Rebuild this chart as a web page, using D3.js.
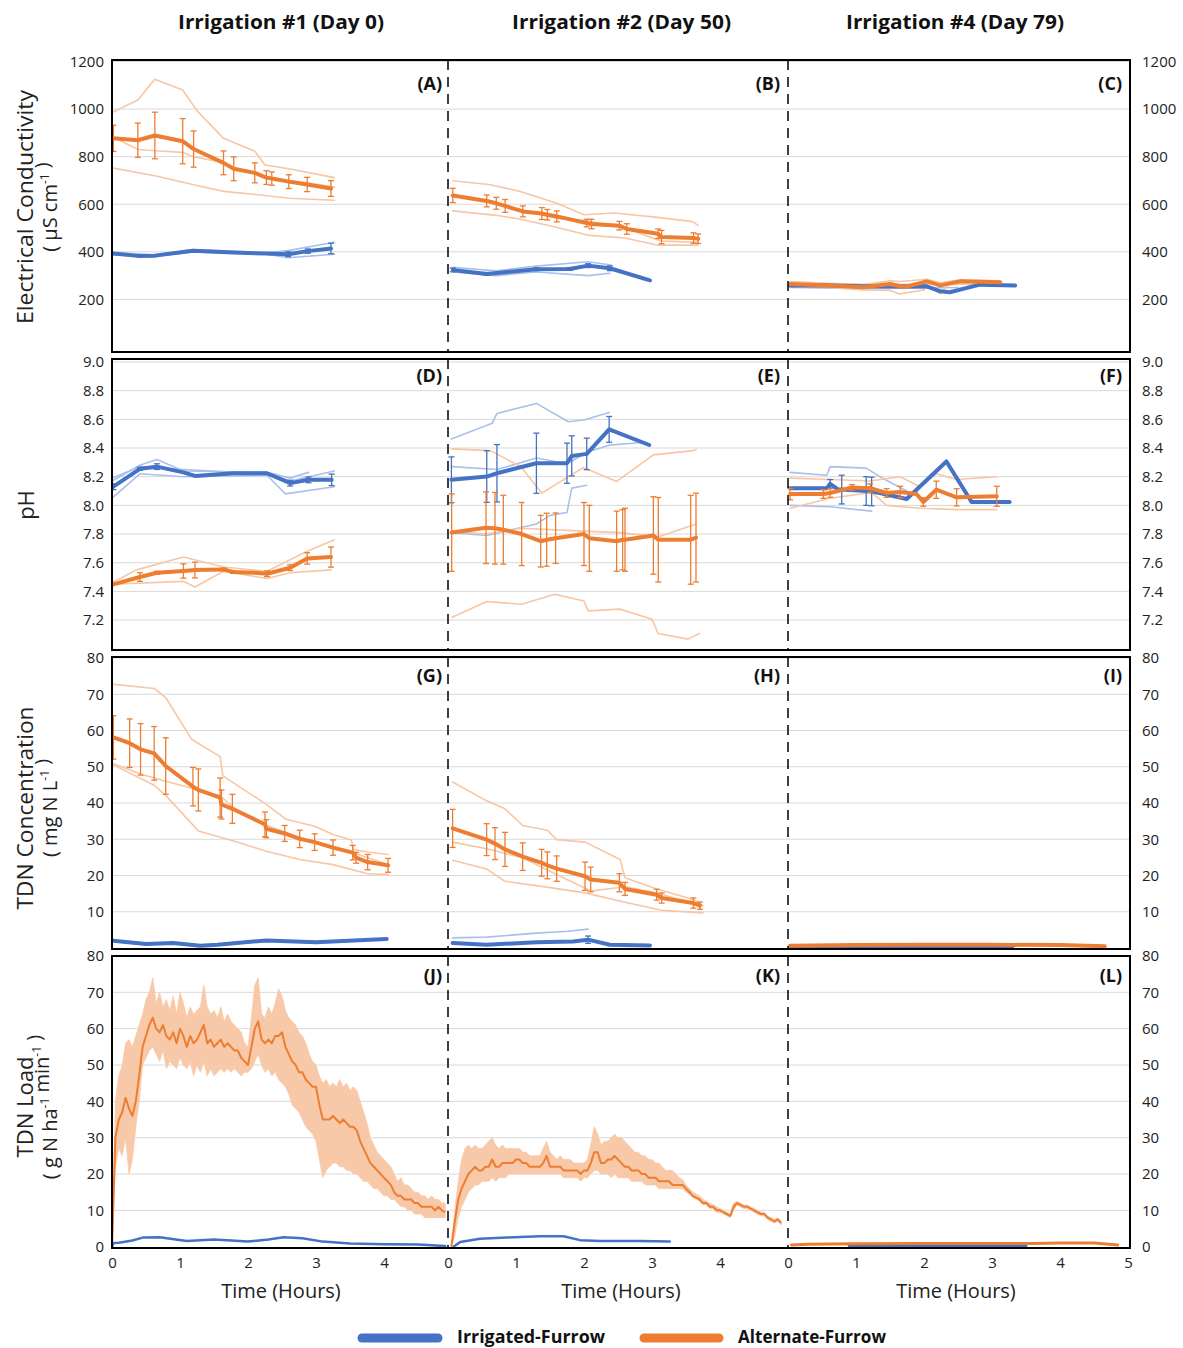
<!DOCTYPE html>
<html lang="en">
<head>
<meta charset="utf-8">
<title>Irrigation runoff - EC, pH, TDN</title>
<script src="https://cdn.jsdelivr.net/npm/d3@7"></script>
<style>
body { margin:0; background:#fff; font-family:'Open Sans', sans-serif; }
.axis text { font-family:'Open Sans', sans-serif; font-size:15px; fill:#222; }
.axis path { display:none; }
.grid line { stroke:#d9d9d9; stroke-width:1; }
.frame { fill:none; stroke:#000; stroke-width:2; }
.divider { stroke:#000; stroke-width:1.5; stroke-dasharray:10,7; }
.ytitle { font-size:20px; fill:#222; }
.ytitle.main { font-size:22px; }
.coltitle { font-size:19px; font-weight:700; fill:#111; }
.plabel { font-size:18px; font-weight:700; fill:#111; }
.xtitle { font-size:20px; fill:#222; }
.legend text { font-size:17px; font-weight:700; fill:#111; }
</style>
</head>
<body>
<svg id="chart" width="1183" height="1348"></svg>
<script>

// ---------- data (time in hours, value) ----------
// colours
var ORANGE = "#ED7D31", ORANGE_LT = "#F7C6A4", BLUE = "#4472C4", BLUE_LT = "#A9C0EA";

// (A) EC, irrigation #1   [t, mean, err]
var A_or = [[0.02,877,55],[0.38,869,72],[0.63,889,98],[1.04,865,95],[1.2,832,76],[1.64,774,50],[1.79,749,50],[2.1,732,42],[2.27,712,29],[2.35,708,28],[2.6,695,29],[2.87,683,30],[3.22,666,33]];
var A_orReps = [
  [[0,985],[0.38,1038],[0.63,1125],[1.04,1080],[1.25,993],[1.64,877],[2.1,823],[2.25,765],[2.6,749],[3.27,712]],
  [[0,753],[0.63,720],[1.25,679],[1.64,654],[2.12,641],[2.6,625],[3.27,617]],
  [[0,885],[0.38,830],[0.63,825],[1.04,818],[1.2,800],[1.64,775],[1.79,750],[2.1,730],[2.3,712],[2.6,700],[2.87,690],[3.27,672]]
];
var A_bl = [[0.02,393,0],[0.38,383,0],[0.63,384,0],[1.19,405,0],[1.79,397,0],[2.27,393,0],[2.59,390,10],[2.88,403,9],[3.22,414,22]];
var A_blReps = [
  [[0,397],[0.63,388],[1.19,410],[2.27,396],[2.59,405],[3.27,440]],
  [[0,388],[0.63,380],[1.19,400],[2.27,390],[2.59,375],[3.27,390]]
];

// (B) EC, irrigation #2
var B_or = [[0.07,637,30],[0.57,614,25],[0.71,604,25],[0.84,593,27],[1.10,570,23],[1.38,561,25],[1.46,556,22],[1.60,549,23],[2.04,521,16],[2.11,517,20],[2.52,510,18],[2.63,496,22],[3.09,476,20],[3.14,462,28],[3.61,458,22],[3.68,455,20]];
var B_orReps = [
  [[0.07,699],[0.6,683],[1.05,655],[1.6,604],[2.0,556],[2.45,563],[3.08,545],[3.6,527],[3.68,510]],
  [[0.07,572],[0.75,552],[1.05,538],[1.5,510],[2.08,469],[2.6,458],[3.09,428],[3.68,428]],
  [[0.07,640],[0.57,610],[1.1,575],[1.6,540],[2.04,530],[2.6,500],[3.14,445],[3.68,440]]
];
var B_bl = [[0.07,324,8],[0.57,307,6],[1.3,327,6],[1.79,328,6],[2.06,342,8],[2.38,331,10],[2.97,280,0]];
var B_blReps = [
  [[0.07,335],[0.7,320],[1.3,340],[2.06,358],[2.4,345]],
  [[0.07,315],[0.7,300],[1.3,315],[2.06,300],[2.38,310]]
];

// (C) EC, irrigation #4
var C_or = [[0.03,265,0],[0.62,259,0],[1.11,251,0],[1.5,265,0],[1.72,252,0],[2.04,276,0],[2.24,259,0],[2.53,276,0],[3.12,272,0]];
var C_orReps = [
  [[0.03,275],[0.62,268],[1.11,262],[1.5,278],[1.64,275],[2.04,285],[2.24,270],[2.53,282],[3.12,278]],
  [[0.03,255],[0.62,250],[1.11,240],[1.5,238],[1.64,223],[2.0,240],[2.04,265],[2.24,223],[2.35,262],[3.12,268]]
];
var C_bl = [[0.03,259,0],[0.62,259,0],[1.11,255,0],[1.60,254,0],[2.04,255,0],[2.24,234,0],[2.38,230,0],[2.82,262,0],[3.34,259,0]];
var C_blReps = [
  [[0.03,250],[1.11,245],[2.04,248],[2.5,250]],
  [[0.03,268],[1.11,262],[2.04,262]]
];

// (D) pH, irrigation #1
var D_or = [[0.02,7.449,0],[0.41,7.50,0.03],[0.66,7.53,0.01],[1.05,7.542,0.05],[1.22,7.549,0.055],[1.64,7.553,0.01],[1.78,7.535,0.01],[2.1,7.53,0],[2.28,7.523,0.02],[2.62,7.565,0.02],[2.87,7.63,0.04],[3.22,7.639,0.07]];
var D_orReps = [
  [[0,7.46],[0.36,7.55],[1.05,7.64],[1.64,7.57],[2.28,7.54],[2.87,7.68],[3.27,7.76]],
  [[0,7.45],[1.05,7.47],[1.22,7.43],[1.64,7.54],[2.28,7.49],[2.62,7.53],[3.22,7.55]]
];
var D_bl = [[0.02,8.13,0.02],[0.41,8.255,0.01],[0.66,8.27,0.02],[1.05,8.23,0],[1.22,8.205,0],[1.78,8.224,0],[2.28,8.224,0],[2.62,8.155,0.02],[2.89,8.178,0.02],[3.23,8.178,0.04]];
var D_blReps = [
  [[0,8.17],[0.41,8.28],[0.66,8.32],[1.05,8.24],[2.28,8.23],[2.62,8.19],[2.89,8.23]],
  [[0,8.05],[0.41,8.22],[1.05,8.2],[2.28,8.21],[2.55,8.08],[3.27,8.13]],
  [[0,8.19],[0.41,8.27],[0.66,8.26],[1.05,8.25],[2.28,8.22],[2.62,8.17],[3.27,8.24]]
];

// (E) pH, irrigation #2
var E_or = [[0.054,7.81,0.27],[0.559,7.844,0.25],[0.691,7.84,0.25],[0.814,7.83,0.24],[1.083,7.80,0.22],[1.363,7.75,0.18],[1.451,7.76,0.185],[1.583,7.771,0.176],[2.0,7.80,0.22],[2.078,7.77,0.23],[2.48,7.75,0.21],[2.568,7.76,0.21],[2.603,7.76,0.22],[3.02,7.79,0.27],[3.093,7.76,0.295],[3.569,7.76,0.31],[3.647,7.775,0.31]];
var E_orReps = [
  [[0.054,8.394],[0.62,8.382],[1.07,8.271],[1.38,8.085],[1.99,8.264],[2.48,8.167],[3.02,8.352],[3.6,8.382],[3.65,8.39]],
  [[0.054,7.82],[0.559,7.80],[1.07,7.84],[1.99,7.82],[2.53,7.81],[3.09,7.78],[3.65,7.87]],
  [[0.054,7.217],[0.57,7.329],[1.08,7.31],[1.57,7.38],[2.0,7.333],[2.06,7.264],[2.53,7.276],[3.0,7.206],[3.09,7.106],[3.53,7.067],[3.7,7.106]]
];
var E_bl = [[0.05,8.178,0.16],[0.57,8.201,0.18],[0.72,8.224,0.2],[1.30,8.294,0.21],[1.75,8.294,0.14],[1.82,8.345,0.14],[2.04,8.359,0.11],[2.37,8.53,0.09],[2.96,8.421,0]];
var E_blReps = [
  [[0.05,8.463],[0.65,8.572],[0.72,8.641],[1.30,8.711],[1.77,8.583],[2.0,8.595],[2.37,8.648]],
  [[0.05,8.27],[0.72,8.25],[1.30,8.33],[1.75,8.29],[2.04,8.37],[2.37,8.42],[2.9,8.44]],
  [[0.05,7.81],[0.57,7.79],[1.30,7.87],[1.5,7.93],[1.75,7.95],[1.82,8.12],[2.04,8.14]]
];

// (F) pH, irrigation #4
var F_or = [[0.03,8.079,0.04],[0.52,8.079,0.03],[0.62,8.086,0.03],[0.94,8.125,0.02],[1.21,8.12,0.03],[1.45,8.086,0.03],[1.65,8.093,0.04],[1.89,8.079,0],[1.99,8.023,0.03],[2.18,8.109,0.06],[2.48,8.056,0.06],[3.07,8.063,0.07]];
var F_orReps = [
  [[0.03,8.19],[0.62,8.18],[1.21,8.17],[1.65,8.2],[1.94,8.13],[2.18,8.22],[2.48,8.18],[3.07,8.2]],
  [[0.03,7.98],[0.62,8.05],[1.23,8.09],[1.45,8.0],[1.94,7.98],[2.48,7.97],[3.07,7.97]]
];
var F_bl = [[0.03,8.12,0],[0.57,8.12,0],[0.62,8.15,0.03],[0.74,8.11,0],[0.79,8.11,0.1],[1.15,8.10,0.1],[1.23,8.097,0.1],[1.35,8.086,0],[1.745,8.044,0],[1.94,8.132,0],[2.33,8.306,0],[2.70,8.023,0],[3.26,8.023,0]];
var F_blReps = [
  [[0.03,8.23],[0.57,8.21],[0.62,8.27],[1.15,8.26],[1.35,8.2],[1.745,8.1]],
  [[0.03,8.0],[0.62,7.99],[1.23,7.96]]
];

// (G) TDN concentration, irrigation #1
var G_or = [[0.02,58.1,6.0],[0.26,56.5,6.7],[0.42,54.8,7.1],[0.62,53.7,7.4],[0.79,50.2,7.8],[1.19,44.5,5.3],[1.27,43.6,5.8],[1.59,41.5,5.4],[1.61,39.6,4],[1.77,38.4,4],[2.25,34.1,3.4],[2.27,32.9,2.5],[2.54,31.6,2.2],[2.76,30.1,2.4],[2.98,29.2,2.3],[3.25,27.7,2.1],[3.54,26.3,2],[3.59,24.9,1.5],[3.76,23.7,2.1],[4.06,22.8,1.9]];
var G_orReps = [
  [[0,72.8],[0.62,71.6],[0.79,69.1],[1.17,57.6],[1.59,52.8],[1.63,47.5],[2.27,39.6],[2.56,35.5],[2.98,33.6],[3.25,31.3],[3.52,29.8],[3.55,27.2],[3.76,26.5],[4.06,25.8]],
  [[0,50.7],[0.62,44.9],[0.79,42.1],[1.27,32.3],[1.79,29.5],[2.27,26.7],[2.76,24.4],[3.25,23.0],[3.76,20.5],[4.06,20.3]],
  [[0,51],[0.42,48],[0.79,46],[1.19,44],[1.59,42],[1.8,38.5],[2.25,34],[2.76,30.5],[3.25,28],[3.59,26],[4.06,23]]
];
var G_bl = [[0.02,2.0,0],[0.5,1.1,0],[0.9,1.4,0],[1.3,0.6,0],[1.55,0.9,0],[2.27,2.1,0],[3.0,1.6,0],[4.04,2.5,0]];
var G_blReps = [];

// (H) TDN concentration, irrigation #2
var H_or = [[0.068,33.0,5.25],[0.568,29.9,4.4],[0.691,28.8,4.4],[0.838,27.2,4.7],[1.098,25.2,3.8],[1.377,23.5,3.7],[1.461,22.8,3.7],[1.598,21.9,3.5],[2.015,19.8,3.9],[2.098,18.9,3.4],[2.52,18.0,2.5],[2.603,16.3,1.8],[3.069,14.7,1.5],[3.142,13.8,1.4],[3.608,12.4,1.4],[3.706,11.7,1.0]];
var H_orReps = [
  [[0.068,45.8],[0.568,40.6],[0.838,38.4],[1.098,33.8],[1.461,32.5],[1.598,29.9],[2.015,29.2],[2.53,24.4],[2.603,19.4],[3.069,16.3],[3.608,13.4],[3.75,11.7]],
  [[0.068,24.2],[0.568,21.8],[0.838,18.4],[1.377,17.0],[2.015,15.2],[2.603,12.6],[3.142,10.4],[3.75,9.7]],
  [[0.068,29.2],[0.568,27.4],[1.098,24.9],[1.461,21.5],[2.098,15.7],[2.603,16.9],[3.069,15.2],[3.608,12.3]]
];
var H_bl = [[0.068,1.4,0],[0.568,0.9,0],[1.30,1.6,0],[1.84,1.8,0],[2.06,2.3,1],[2.38,0.9,0],[2.97,0.7,0]];
var H_blReps = [[[0.068,2.8],[0.568,3.0],[1.30,4.1],[1.77,4.6],[2.06,5.2]]];

// (I) TDN concentration, irrigation #4
var I_or = [[0.03,0.6,0],[1.0,0.8,0],[2.0,0.9,0],[3.0,0.9,0],[4.0,0.8,0],[4.66,0.5,0]];
var I_bl = [[0.03,0.3,0],[3.3,0.3,0]];

// (J) TDN load, irrigation #1 - sampled every 0.05 h
var LOAD_STEP = 0.05;
var J_mean = [0,30,35,37,41,38,36,40,47,55,58,61,63,60,59,61,58,57,59,56,60,58,55,58,56,57,59,61,56,57,55,56,57,55,56,55,54,54,52,51,50,55,60,62,57,56,57,56,58,58,59,55,53,51,50,48,48,46,45,44,44,39,35,35,35,36,35,34,35,34,33,33,32,29,27,25,23,22,21,20,19,18,17,15,14,14,13,13,13,12,12,11,11,11,11,10,11,10,9.5];
var J_lo   = [0,22,27,25,30,20,24,33,40,50,52,54,55,53,51,54,49,51,50,49,52,50,49,51,47,50,48,51,47,49,47,48,49,48,49,48,49,48,47,48,48,49,51,53,50,48,49,47,48,46,45,44,42,39,38,37,35,33,32,31,29,24,19,21,22,23,23,22,22,21,21,20,20,19,18,18,17,16,16,15,14,14,13,13,12,11,11,10,10,9,9,9,8,8,8,8,8,8,8];
var J_hi   = [0,40,47,50,56,57,55,58,61,64,68,70,74,67,70,66,68,65,69,64,70,67,63,66,64,65,66,72,66,64,65,63,66,62,64,62,61,60,59,56,55,63,72,74,64,63,66,64,67,71,69,65,63,62,61,59,58,56,53,51,50,47,45,46,44,45,44,46,44,45,43,44,43,40,37,34,30,28,26,25,24,23,22,20,18,19,17,17,16,15,15,14,14,13,14,13,13,12,12];
var J_bl = [[0,0],[0.02,1.0],[0.1,1.1],[0.3,1.7],[0.45,2.5],[0.7,2.6],[1.1,1.6],[1.5,2.0],[2.0,1.4],[2.3,2.0],[2.52,2.6],[2.8,2.3],[3.1,1.4],[3.5,0.9],[4.0,0.7],[4.5,0.6],[4.9,0.2]];

// (K) TDN load, irrigation #2 - sampled every 0.05 h starting at 0.05 h
var K_mean = [0,7,13,16,18,20,21,22,21,21,22,22,24,22,22,23,23,23,23,24,24,23,23,22,22,22,22,23,25,22,22,22,22,21,21,21,21,21,20,21,21,23,26,26,23,23,24,24,25,24,23,22,22,21,21,21,20,20,19,19,19,18,18,18,18,17,17,17,17,16,15,14,13.5,13,12,12,11,11,10,10,9.5,9,8.5,11,12,11.5,11,11,10.5,10,9.5,9,9,8,7.5,7,7.5,6.5];
var K_lo   = [0,3,8,11,13,15,16,17,17,18,18,18,19,18,19,19,19,20,20,20,20,20,20,20,20,20,20,20,20,20,20,20,20,19,19,19,19,19,18,19,19,20,21,21,20,20,20,19,20,19,19,19,19,18,18,18,18,17,17,17,17,16,16,16,16,16,16,16,16,15,14.5,13.5,13,12.5,11.5,11.5,10.5,10.5,9.5,9.5,9,8.5,8,10,11.5,11,10.5,10.5,10,9.5,9,8.5,8.5,7.5,7,6.5,7,6];
var K_hi   = [0,10,18,24,27,28,27,28,27,27,28,29,30,28,27,28,27,27,27,27,27,26,26,25,25,25,25,27,29,26,25,24,25,24,24,24,23,23,23,23,24,28,33,31,28,29,29,30,31,30,30,29,28,27,26,26,25,25,24,24,23,23,22,21,21,21,20,19,18.5,17,16,15,14.5,14,13,12.5,12,11.5,11,10.5,10,9.5,9,12,12.5,12,11.5,11.5,11,10.5,10,9.5,9.5,8.5,8,7.5,8,7];
var K_bl = [[0.08,0],[0.18,1.3],[0.47,2.2],[0.86,2.5],[1.35,2.9],[1.70,2.9],[1.94,1.8],[2.24,1.6],[2.82,1.6],[3.26,1.4]];

// (L) TDN load, irrigation #4
var L_or = [[0.05,0.5],[0.3,0.7],[1.0,0.8],[2.0,0.9],[3.0,0.9],[3.6,0.9],[4.0,1.0],[4.5,1.0],[4.85,0.5]];
var L_bl = [[0.9,0.2],[3.5,0.2]];

// axis text
var colTitles = ["Irrigation #1 (Day 0)", "Irrigation #2 (Day 50)", "Irrigation #4 (Day 79)"];
var panelLetters = [["(A)","(B)","(C)"],["(D)","(E)","(F)"],["(G)","(H)","(I)"],["(J)","(K)","(L)"]];
var ecTicks = [200,400,600,800,1000,1200];
var phTicks = [7.2,7.4,7.6,7.8,8.0,8.2,8.4,8.6,8.8,9.0];
var concTicks = [10,20,30,40,50,60,70,80];
var loadTicks = [0,10,20,30,40,50,60,70,80];
var hourTicks = [[0,1,2,3,4],[0,1,2,3,4],[0,1,2,3,4,5]];

// ---------- layout ----------
var svg = d3.select("#chart");
var colStart = [112, 448, 788], hourPx = 68, plotRight = 1130;
var rows = [
  {top:60,  bot:352,  domain:[0,1200], range:[347,61.5],   ticks:ecTicks,   fmt:d3.format("d"),   labelY:90},
  {top:359, bot:650,  domain:[7,9],    range:[648.7,362],  ticks:phTicks,   fmt:d3.format(".1f"), labelY:382},
  {top:657, bot:949,  domain:[0,80],   range:[948,658],    ticks:concTicks, fmt:d3.format("d"),   labelY:682},
  {top:956, bot:1248, domain:[0,80],   range:[1246.7,956], ticks:loadTicks, fmt:d3.format("d"),   labelY:982}
];
rows.forEach(function(r){ r.y = d3.scaleLinear().domain(r.domain).range(r.range); });

var xs = colStart.map(function(s){
  return d3.scaleLinear().domain([0,5]).range([s, s + 5*hourPx]);
});

var defs = svg.append("defs");
rows.forEach(function(r, i){
  defs.append("clipPath").attr("id","clip"+i).append("rect")
    .attr("x",112).attr("y",r.top).attr("width",plotRight-112).attr("height",r.bot-r.top);
});

// gridlines
rows.forEach(function(r){
  svg.append("g").attr("class","grid").selectAll("line")
    .data(r.ticks.filter(function(t){ return t > r.domain[0]; })).enter().append("line")
    .attr("x1",112).attr("x2",plotRight)
    .attr("y1",function(d){ return r.y(d); }).attr("y2",function(d){ return r.y(d); });
});

// ---------- drawing helpers ----------
function drawLine(g, x, y, pts, color, width){
  g.append("path").datum(pts)
    .attr("fill","none").attr("stroke",color).attr("stroke-width",width)
    .attr("stroke-linejoin","round").attr("stroke-linecap","round")
    .attr("d", d3.line().x(function(d){ return x(d[0]); }).y(function(d){ return y(d[1]); }));
}
function drawErr(g, x, y, pts, color){
  var e = g.append("g").attr("stroke",color).attr("stroke-width",1.3);
  pts.filter(function(d){ return d[2] > 0; }).forEach(function(d){
    var cx = x(d[0]), y1 = y(d[1]-d[2]), y2 = y(d[1]+d[2]);
    e.append("line").attr("x1",cx).attr("x2",cx).attr("y1",y1).attr("y2",y2);
    e.append("line").attr("x1",cx-3).attr("x2",cx+3).attr("y1",y1).attr("y2",y1);
    e.append("line").attr("x1",cx-3).attr("x2",cx+3).attr("y1",y2).attr("y2",y2);
  });
}
function drawSeries(row, col, bl, blReps, or, orReps){
  var r = rows[row], x = xs[col], y = r.y;
  var g = svg.append("g").attr("clip-path","url(#clip"+row+")");
  (blReps||[]).forEach(function(p){ drawLine(g, x, y, p, BLUE_LT, 1.6); });
  (orReps||[]).forEach(function(p){ drawLine(g, x, y, p, ORANGE_LT, 1.6); });
  if (bl) { drawLine(g, x, y, bl, BLUE, 4); drawErr(g, x, y, bl, BLUE); }
  if (or) { drawLine(g, x, y, or, ORANGE, 4); drawErr(g, x, y, or, ORANGE); }
}
function drawLoad(col, t0, mean, lo, hi, bl){
  var r = rows[3], x = xs[col], y = r.y;
  var g = svg.append("g").attr("clip-path","url(#clip3)");
  var pts = mean.map(function(m, i){ return {t: t0 + i*LOAD_STEP, m: m, lo: lo[i], hi: hi[i]}; });
  g.append("path").datum(pts).attr("fill","#F8C9A8").attr("stroke","#F8C9A8").attr("stroke-width",0.8)
    .attr("d", d3.area().x(function(d){ return x(d.t); })
      .y0(function(d){ return y(d.lo); }).y1(function(d){ return y(d.hi); }));
  drawLine(g, x, y, bl, BLUE, 2.5);
  g.append("path").datum(pts).attr("fill","none").attr("stroke",ORANGE).attr("stroke-width",2)
    .attr("stroke-linejoin","round")
    .attr("d", d3.line().x(function(d){ return x(d.t); }).y(function(d){ return y(d.m); }));
}

// ---------- panels ----------
drawSeries(0,0,A_bl,A_blReps,A_or,A_orReps);
drawSeries(0,1,B_bl,B_blReps,B_or,B_orReps);
drawSeries(0,2,C_bl,C_blReps,C_or,C_orReps);
drawSeries(1,0,D_bl,D_blReps,D_or,D_orReps);
drawSeries(1,1,E_bl,E_blReps,E_or,E_orReps);
drawSeries(1,2,F_bl,F_blReps,F_or,F_orReps);
drawSeries(2,0,G_bl,G_blReps,G_or,G_orReps);
drawSeries(2,1,H_bl,H_blReps,H_or,H_orReps);
drawSeries(2,2,I_bl,[],I_or,[]);
drawLoad(0, 0, J_mean, J_lo, J_hi, J_bl);
drawLoad(1, 0.05, K_mean, K_lo, K_hi, K_bl);
(function(){
  var g = svg.append("g").attr("clip-path","url(#clip3)");
  drawLine(g, xs[2], rows[3].y, L_bl, BLUE, 3);
  drawLine(g, xs[2], rows[3].y, L_or, ORANGE, 3);
})();

// dashed dividers, frames, axes, panel letters
rows.forEach(function(r, i){
  [448, 788].forEach(function(dx){
    svg.append("line").attr("class","divider")
      .attr("x1",dx).attr("x2",dx).attr("y1",r.top).attr("y2",r.bot);
  });
  svg.append("rect").attr("class","frame")
    .attr("x",112).attr("y",r.top).attr("width",plotRight-112).attr("height",r.bot-r.top);

  svg.append("g").attr("class","axis").attr("transform","translate(112,0)")
    .call(d3.axisLeft(r.y).tickValues(r.ticks).tickFormat(r.fmt).tickSize(0).tickPadding(8));
  svg.append("g").attr("class","axis").attr("transform","translate("+plotRight+",0)")
    .call(d3.axisRight(r.y).tickValues(r.ticks).tickFormat(r.fmt).tickSize(0).tickPadding(12));

  panelLetters[i].forEach(function(txt, c){
    svg.append("text").attr("class","plabel").attr("text-anchor","end")
      .attr("x", [442, 780, 1122][c]).attr("y", r.labelY).text(txt);
  });
});

// x axes
xs.forEach(function(x, c){
  svg.append("g").attr("class","axis").attr("transform","translate(0,1248)")
    .call(d3.axisBottom(x).tickValues(hourTicks[c]).tickFormat(d3.format("d")).tickSize(0).tickPadding(9));
});
[281, 621, 956].forEach(function(cx){
  svg.append("text").attr("class","xtitle").attr("text-anchor","middle")
    .attr("x",cx).attr("y",1298).text("Time (Hours)");
});

// column titles
[[281,206],[621.5,219],[955,218]].forEach(function(p, i){
  svg.append("text").attr("class","coltitle").attr("text-anchor","middle")
    .attr("x",p[0]).attr("y",29)
    .attr("textLength",p[1]).attr("lengthAdjust","spacingAndGlyphs")
    .text(colTitles[i]);
});

// y titles
function yTitle(cy, lines){
  lines.forEach(function(ln, i){
    var t = svg.append("text").attr("class", i === 0 ? "ytitle main" : "ytitle")
      .attr("text-anchor","middle")
      .attr("transform","translate(" + ln.x + "," + cy + ") rotate(-90)");
    if (ln.len) t.attr("textLength", ln.len).attr("lengthAdjust","spacingAndGlyphs");
    ln.parts.forEach(function(p){
      if (p.sup) {
        t.append("tspan").attr("dy",-8).attr("font-size",12).text(p.s);
        t.append("tspan").attr("dy",8).text("");
      } else {
        t.append("tspan").text(p.s);
      }
    });
  });
}
yTitle(207, [{x:33, len:234, parts:[{s:"Electrical Conductivity"}]},
             {x:57, parts:[{s:"( µS cm"},{s:"-1",sup:true},{s:" )"}]}]);
yTitle(505, [{x:34, parts:[{s:"pH"}]}]);
yTitle(808, [{x:33, len:203, parts:[{s:"TDN Concentration"}]},
             {x:57, parts:[{s:"( mg N L"},{s:"-1",sup:true},{s:" )"}]}]);
yTitle(1107, [{x:33, len:101, parts:[{s:"TDN Load"}]},
              {x:57, parts:[{s:"( g N ha"},{s:"-1",sup:true},{s:" min"},{s:"-1",sup:true},{s:" )"}]}]);

// legend
var lg = svg.append("g").attr("class","legend");
[{x1:362,x2:438,c:BLUE,tx:457,s:"Irrigated-Furrow"},{x1:644,x2:719,c:ORANGE,tx:738,s:"Alternate-Furrow"}].forEach(function(l){
  lg.append("line").attr("x1",l.x1).attr("x2",l.x2).attr("y1",1338).attr("y2",1338)
    .attr("stroke",l.c).attr("stroke-width",9).attr("stroke-linecap","round");
  lg.append("text").attr("x",l.tx).attr("y",1343).attr("textLength",148)
    .attr("lengthAdjust","spacingAndGlyphs").text(l.s);
});

</script>
</body>
</html>
